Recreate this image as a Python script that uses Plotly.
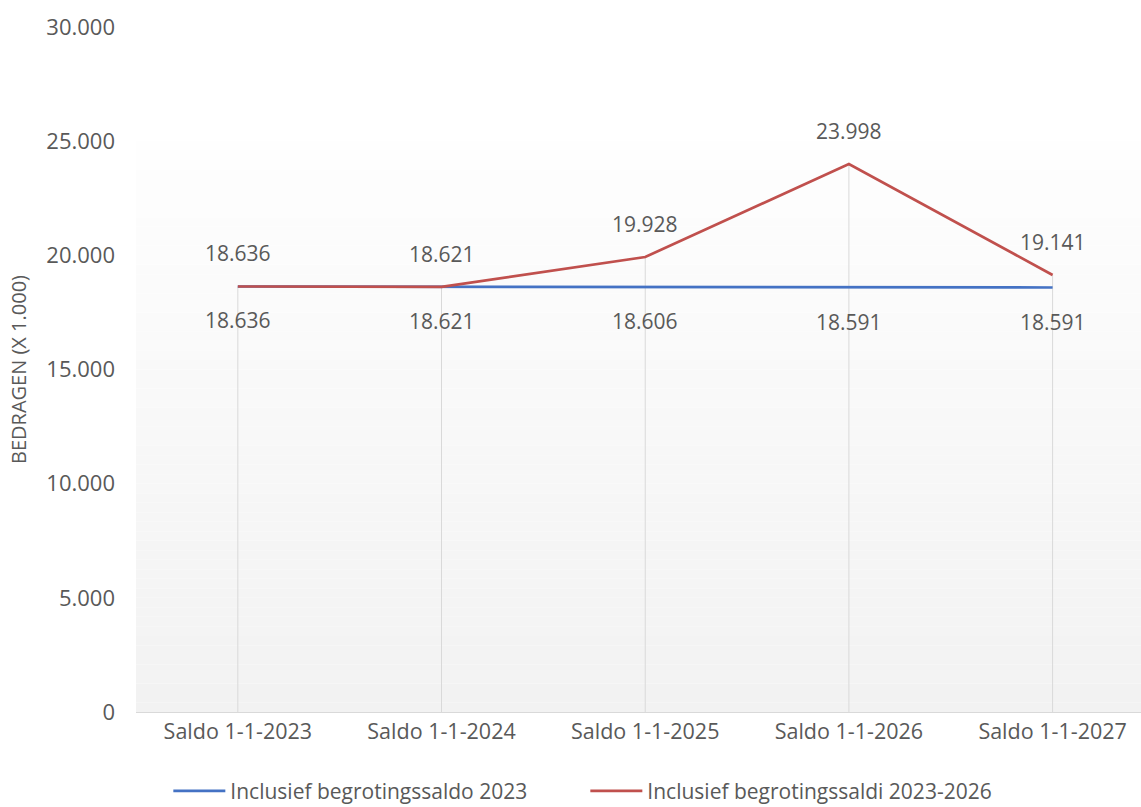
import plotly.graph_objects as go

categories = ["Saldo 1-1-2023", "Saldo 1-1-2024", "Saldo 1-1-2025", "Saldo 1-1-2026", "Saldo 1-1-2027"]
series_blue_name = "Inclusief begrotingssaldo 2023"
series_red_name = "Inclusief begrotingssaldi 2023-2026"
blue_values = [18636, 18621, 18606, 18591, 18591]
red_values = [18636, 18621, 19928, 23998, 19141]
y_tickvals = [0, 5000, 10000, 15000, 20000, 25000, 30000]

FONT = "Open Sans"
GRAY = "#595959"
BLUE = "#4472C4"
RED = "#C0504D"

def fmt(v):
    return f"{v:,}".replace(",", ".")

fig = go.Figure()

# gradient background bands (0 -> 25000)
n = 60
top = 25000
for i in range(n):
    y0 = top * i / n
    y1 = top * (i + 1) / n
    t = i / (n - 1)
    c0 = (0xF2, 0xF2, 0xF2)
    c1 = (0xFE, 0xFE, 0xFE)
    c = tuple(round(c0[k] + (c1[k] - c0[k]) * t) for k in range(3))
    fig.add_shape(type="rect", xref="paper", yref="y", x0=0, x1=1, y0=y0, y1=y1,
                  fillcolor=f"rgb{c}", line_width=0, layer="below")

# drop lines
dx, dy = [], []
for c, b, r in zip(categories, blue_values, red_values):
    dx += [c, c, None]
    dy += [0, max(b, r), None]
fig.add_trace(go.Scatter(x=dx, y=dy, mode="lines", line=dict(color="#D9D9D9", width=1),
                         showlegend=False, hoverinfo="skip"))

fig.add_trace(go.Scatter(x=categories, y=blue_values, mode="lines", name=series_blue_name,
                         line=dict(color=BLUE, width=2.7)))
fig.add_trace(go.Scatter(x=categories, y=red_values, mode="lines", name=series_red_name,
                         line=dict(color=RED, width=2.7)))

for c, v in zip(categories, red_values):
    fig.add_annotation(x=c, y=v, text=fmt(v), showarrow=False, yshift=33,
                       font=dict(family=FONT, size=21, color=GRAY))
for c, v in zip(categories, blue_values):
    fig.add_annotation(x=c, y=v, text=fmt(v), showarrow=False, yshift=-34,
                       font=dict(family=FONT, size=21, color=GRAY))

fig.update_layout(
    width=1141, height=807,
    margin=dict(l=136, r=0, t=27, b=95),
    plot_bgcolor="white", paper_bgcolor="white",
    separators=",.",
    font=dict(family=FONT, size=21, color=GRAY),
    showlegend=True,
    legend=dict(orientation="h", xref="container", yref="container", x=0.513, xanchor="center",
                y=0.045, yanchor="top", font=dict(family=FONT, size=21, color=GRAY),
                itemwidth=52, tracegroupgap=0, entrywidth=350, entrywidthmode="pixels"),
    xaxis=dict(range=[-0.5, 4.434], showgrid=False, showline=True, linecolor="#D9D9D9",
               linewidth=1, ticks="", tickfont=dict(family=FONT, size=21.5, color=GRAY),
               zeroline=False, automargin=False, fixedrange=True),
    yaxis=dict(range=[0, 30000], tickvals=y_tickvals, tickformat=",d", showgrid=False,
               zeroline=False, showline=False, ticks="", ticklabelstandoff=20,
               tickfont=dict(family=FONT, size=22, color=GRAY), automargin=False, fixedrange=True,
               title=dict(text="BEDRAGEN (X 1.000)", font=dict(family=FONT, size=20, color=GRAY),
                          standoff=14)),
)

fig.write_html("out.html", config={"displayModeBar": False},
               post_script="document.body.style.margin='0';document.body.style.overflow='hidden';")
